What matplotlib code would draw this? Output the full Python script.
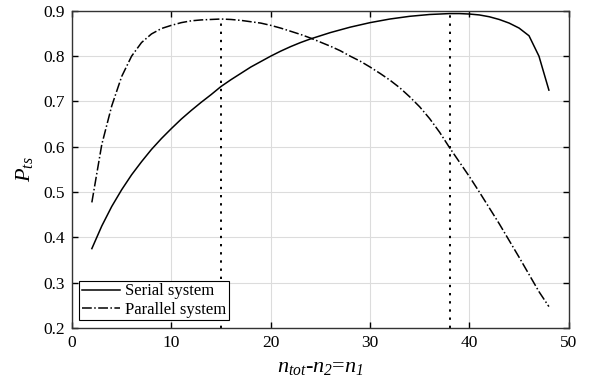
import numpy as np
import matplotlib.pyplot as plt

plt.rcParams['font.family'] = ['Liberation Serif', 'DejaVu Serif']
plt.rcParams['mathtext.fontset'] = 'custom'
plt.rcParams['mathtext.rm'] = 'Liberation Serif:italic'
plt.rcParams['mathtext.it'] = 'Liberation Serif:italic'

# --- Data
n1 = np.arange(2, 49)
p_serial = [0.375, 0.425, 0.468, 0.505, 0.538, 0.567, 0.594, 0.618, 0.640, 0.661,
            0.680, 0.698, 0.715, 0.733, 0.748, 0.762, 0.776, 0.788, 0.800, 0.811,
            0.821, 0.830, 0.838, 0.845, 0.852, 0.858, 0.864, 0.869, 0.874, 0.878,
            0.882, 0.885, 0.888, 0.890, 0.892, 0.893, 0.894, 0.894, 0.893, 0.891,
            0.887, 0.881, 0.873, 0.862, 0.845, 0.800, 0.725]
p_parallel = [0.477, 0.605, 0.690, 0.755, 0.800, 0.830, 0.849, 0.861, 0.868, 0.874,
              0.878, 0.880, 0.881, 0.882, 0.881, 0.879, 0.876, 0.873, 0.868, 0.862,
              0.855, 0.848, 0.840, 0.831, 0.822, 0.812, 0.800, 0.789, 0.776, 0.762,
              0.747, 0.730, 0.710, 0.688, 0.662, 0.632, 0.598, 0.566, 0.534, 0.500,
              0.465, 0.430, 0.393, 0.356, 0.318, 0.280, 0.247]
n_opt = [15, 38]
p_opt = [0.882, 0.894]

# --- Plot
fig, ax = plt.subplots(1, 1, figsize=(5.9, 3.88), dpi=100)
fig.subplots_adjust(left=0.122, right=0.964, top=0.972, bottom=0.155)
ax.plot(n1, p_serial, 'k-', lw=1.1, label='Serial system')
ax.plot(n1, p_parallel, 'k-.', lw=1.1, label='Parallel system')
for xo, yo in zip(n_opt, p_opt):
    ax.plot([xo, xo], [0.2, yo], color='k', lw=1.4, dashes=(1.2, 3.0))
ax.set_xlim([0, 50])
ax.set_ylim([0.2, 0.9])
ax.set_xticks(np.arange(0, 51, 10))
ax.set_yticks(np.arange(0.2, 0.91, 0.1))
ax.grid(True, color='#dcdcdc', lw=0.8)
ax.set_axisbelow(True)
ax.tick_params(direction='in', top=True, right=True, labelsize=12.5, length=4, width=1, pad=5)
for s in ax.spines.values():
    s.set_linewidth(1.0)
    s.set_color('#333333')
ax.set_xlabel(r'$n_{tot}$-$n_{2}$=$n_{1}$', fontsize=16, labelpad=5)
ax.set_ylabel(r'$P_{ts}$', fontsize=16, labelpad=6)
leg = ax.legend(loc='lower left', fontsize=12, fancybox=False, framealpha=1,
                edgecolor='k', borderpad=0.15, labelspacing=0.15, handlelength=2.3,
                handletextpad=0.3, borderaxespad=0.45)
leg.get_frame().set_linewidth(0.8)
fig.savefig('out.png', dpi=100)
